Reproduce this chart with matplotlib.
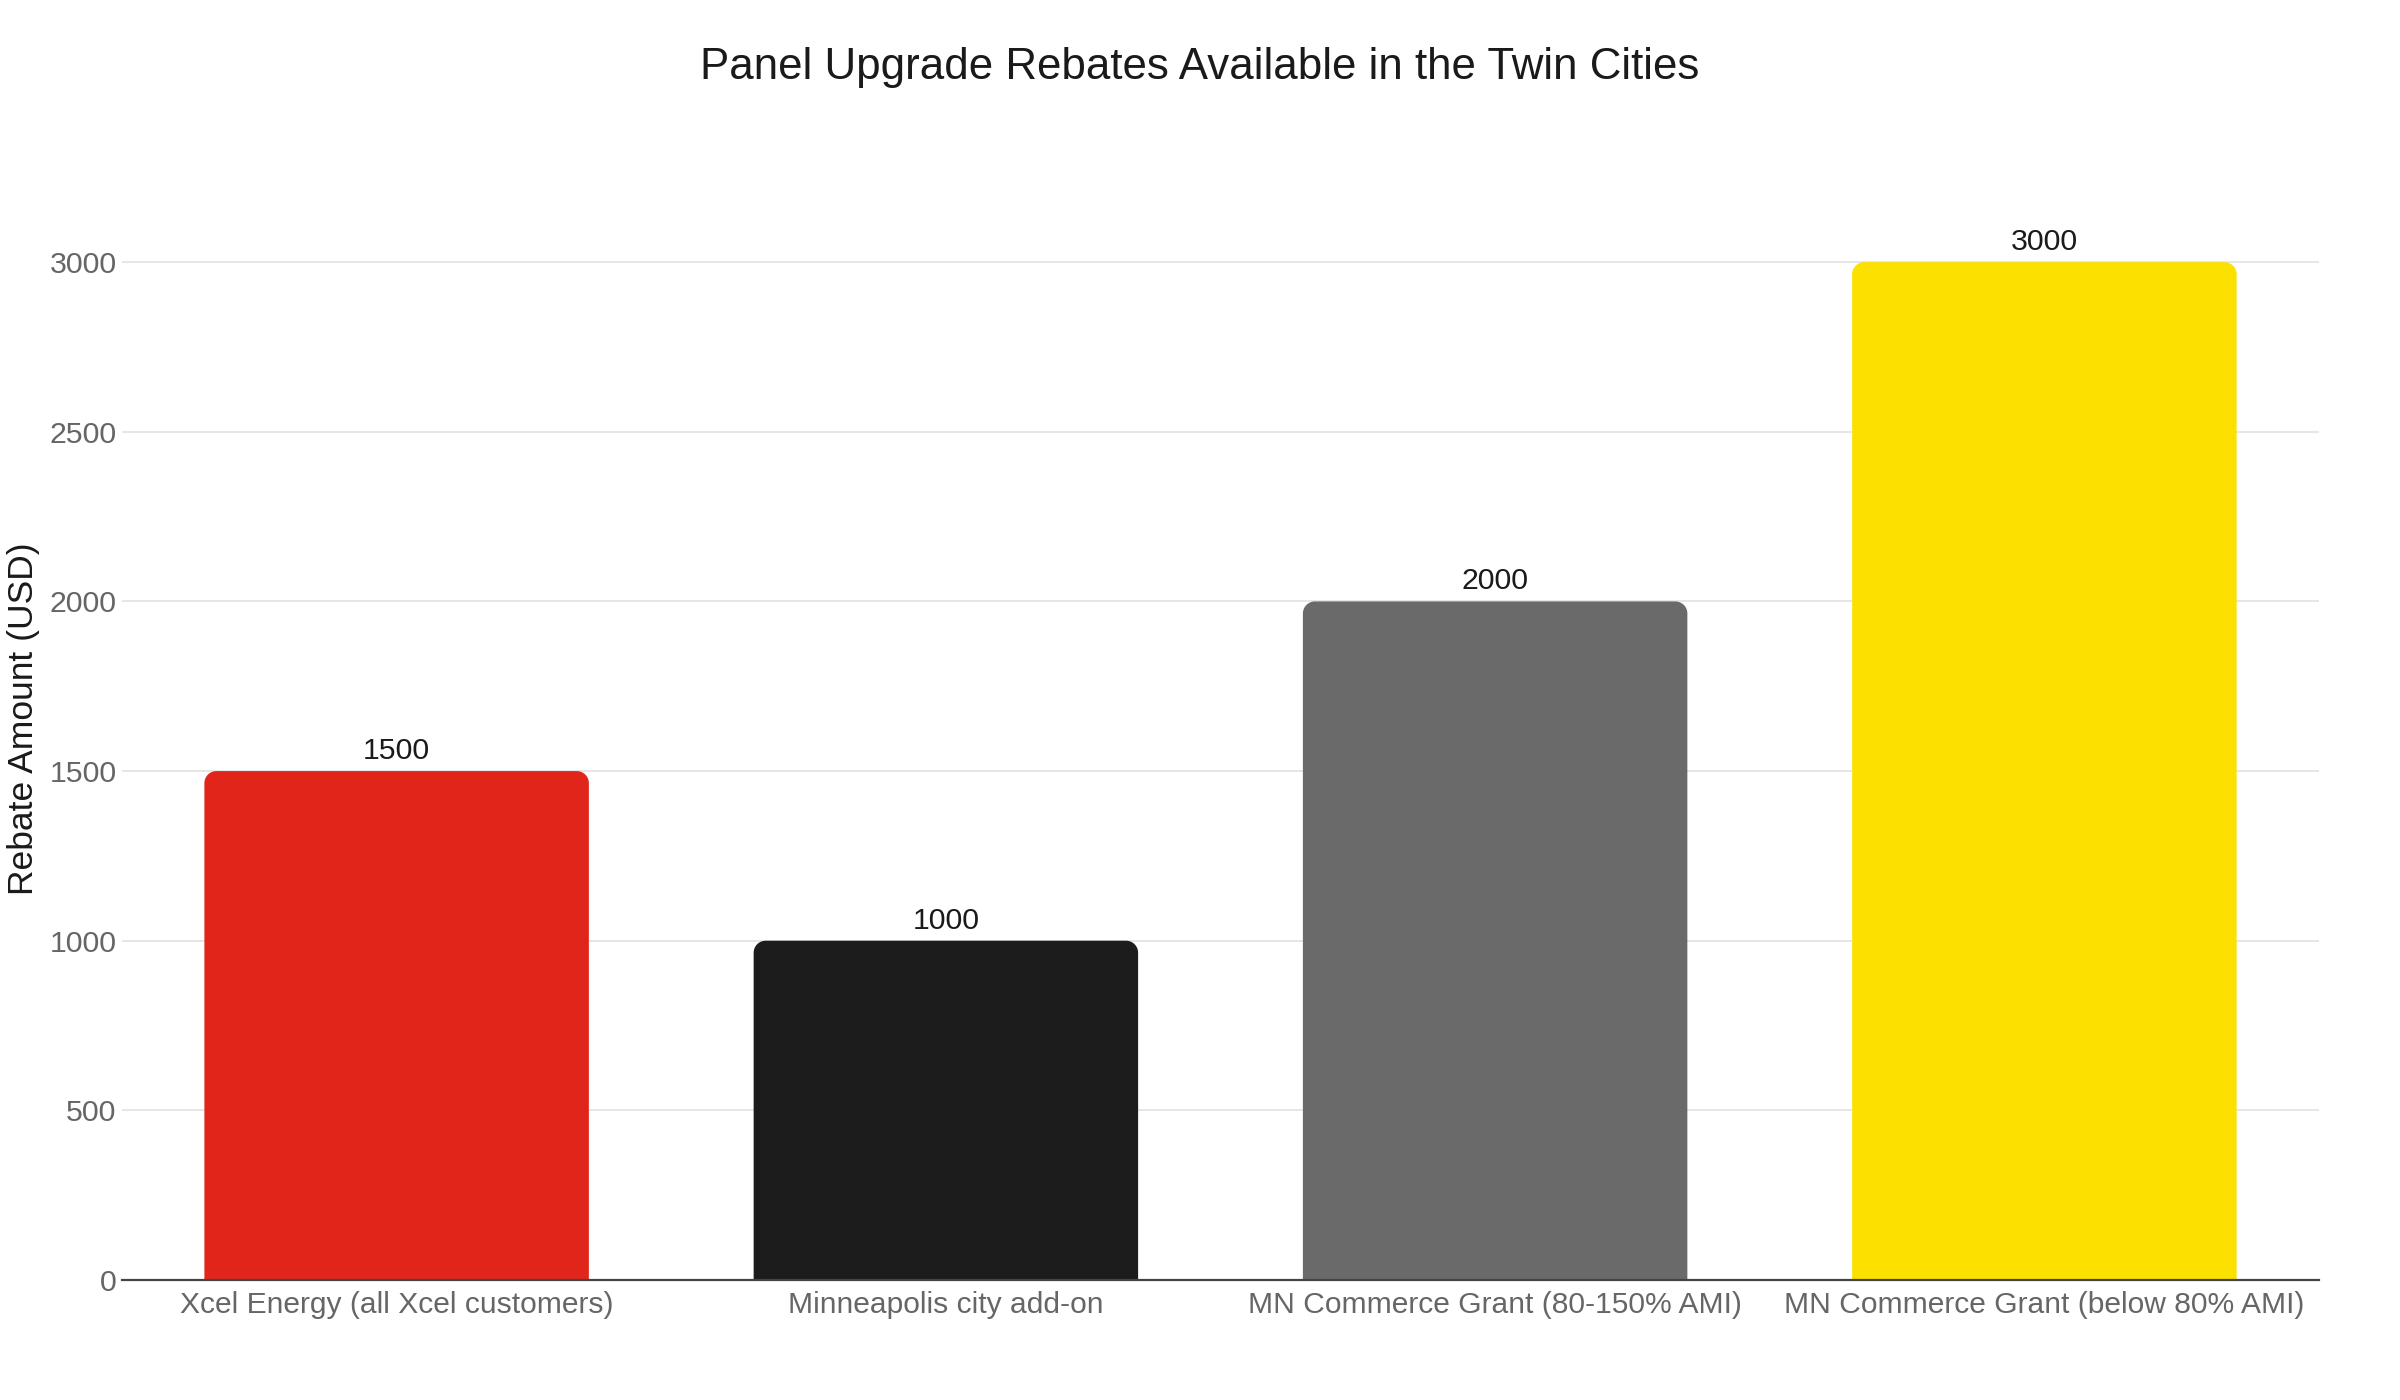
import matplotlib
matplotlib.use("Agg")
import matplotlib.pyplot as plt
from matplotlib.path import Path
from matplotlib.patches import PathPatch

categories = ["Xcel Energy (all Xcel customers)", "Minneapolis city add-on",
              "MN Commerce Grant (80-150% AMI)", "MN Commerce Grant (below 80% AMI)"]
rebates = [1500, 1000, 2000, 3000]
bar_colors = ["#E1251B", "#1C1C1C", "#6A6A6A", "#FCE100"]
yticks = [0, 500, 1000, 1500, 2000, 2500, 3000]

plt.rcParams['font.family'] = ['Liberation Sans', 'DejaVu Sans']

W, H, DPI = 24, 14, 100
fig = plt.figure(figsize=(W, H), dpi=DPI)
left_px, right_px, top_px, bottom_px = 122, 2319, 158, 1280
ax = fig.add_axes([left_px / 2400, 1 - bottom_px / 1400,
                   (right_px - left_px) / 2400, (bottom_px - top_px) / 1400])

x = list(range(len(categories)))
bars = ax.bar(x, rebates, width=0.7, color=bar_colors, zorder=2)
ax.set_xlim(-0.5, len(categories) - 0.5)
ax.set_ylim(0, 3307)

# rounded top corners (radius in pixels converted to data units)
r_px = 12
ax_w_px = right_px - left_px
ax_h_px = bottom_px - top_px
x0, x1 = ax.get_xlim()
y0, y1 = ax.get_ylim()
rx = r_px * (x1 - x0) / ax_w_px
ry = r_px * (y1 - y0) / ax_h_px
k = 0.5523
for rect, col in zip(bars, bar_colors):
    bx, by, bw, bh = rect.get_x(), rect.get_y(), rect.get_width(), rect.get_height()
    rect.set_visible(False)
    top = by + bh
    verts = [
        (bx, by),
        (bx, top - ry),
        (bx, top - ry + k * ry), (bx + rx - k * rx, top), (bx + rx, top),
        (bx + bw - rx, top),
        (bx + bw - rx + k * rx, top), (bx + bw, top - ry + k * ry), (bx + bw, top - ry),
        (bx + bw, by),
        (bx, by),
    ]
    codes = [Path.MOVETO, Path.LINETO,
             Path.CURVE4, Path.CURVE4, Path.CURVE4,
             Path.LINETO,
             Path.CURVE4, Path.CURVE4, Path.CURVE4,
             Path.LINETO, Path.CLOSEPOLY]
    ax.add_patch(PathPatch(Path(verts, codes), facecolor=col, edgecolor='none', zorder=2))
    ax.annotate(f"{int(bh)}", xy=(bx + bw / 2, top), xytext=(0, 14.5),
                textcoords='offset points', ha='center', va='center',
                fontsize=21.8, color='#1a1a1a')

ax.set_xticks(x)
ax.set_xticklabels(categories)
ax.set_yticks(yticks)
ax.tick_params(axis='x', length=0, pad=8, labelsize=21.6, labelcolor='#666666')
ax.tick_params(axis='y', length=0, pad=4, labelsize=21.8, labelcolor='#666666')
ax.grid(axis='y', color='#e6e6e6', linewidth=1.4, zorder=0)
ax.set_axisbelow(True)
for s in ['top', 'right', 'left']:
    ax.spines[s].set_visible(False)
ax.spines['bottom'].set_color('#444444')
ax.spines['bottom'].set_linewidth(1.6)
ax.spines['bottom'].set_zorder(3)

fig.text(24 / 2400, 1 - 719 / 1400, "Rebate Amount (USD)", rotation=90,
         ha='center', va='center', fontsize=25.5, color='#1a1a1a')
fig.text(0.5, 1 - 68 / 1400, "Panel Upgrade Rebates Available in the Twin Cities",
         ha='center', va='center', fontsize=31.6, color='#1a1a1a')

fig.savefig("out.png", dpi=DPI, facecolor='white')
